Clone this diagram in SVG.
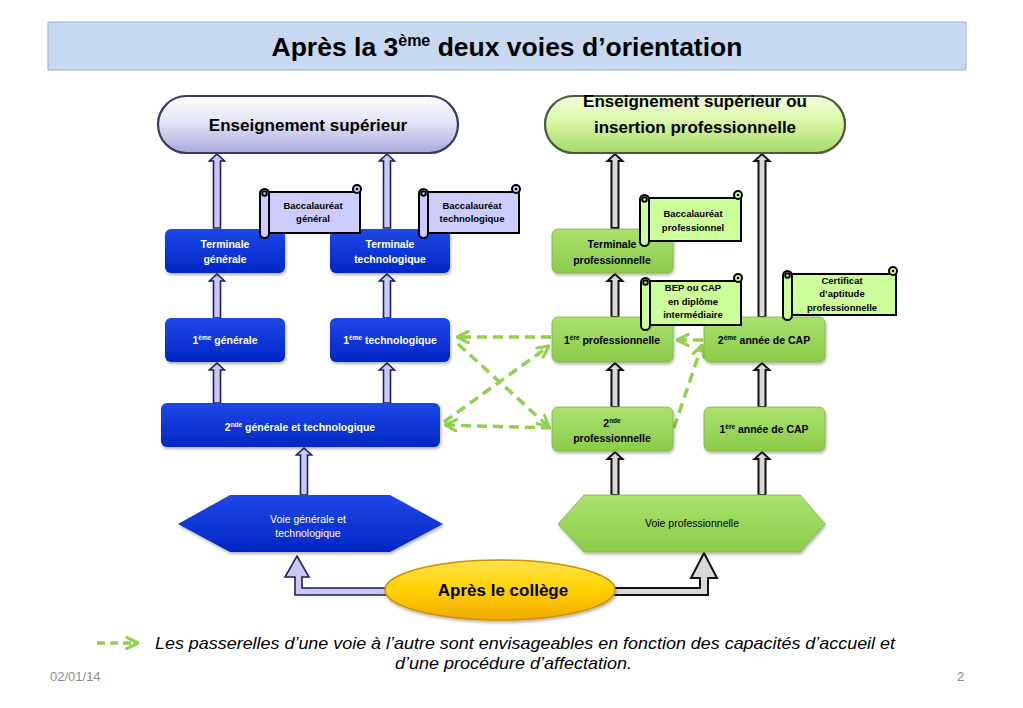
<svg xmlns="http://www.w3.org/2000/svg" width="1023" height="708" viewBox="0 0 1023 708">
<style>
text{font-family:"Liberation Sans",Arial,sans-serif}
.bw{font-weight:bold;font-size:10.5px;fill:#fff;text-anchor:middle}
.bk{font-weight:bold;font-size:10.5px;fill:#000;text-anchor:middle}
.sc{font-weight:bold;font-size:9.5px;fill:#000;text-anchor:middle}
.hx{font-size:10.5px;fill:#fff;text-anchor:middle}
.blue{fill:url(#gBlue);filter:url(#sh)}
.green{fill:url(#gGreen);stroke:#7cb342;stroke-width:0.8;filter:url(#sh)}
.arrL{fill:#c9c9f2;stroke:#1c1c6e;stroke-width:1.6;stroke-linejoin:miter}
.arrR{fill:#d9d9d9;stroke:#111;stroke-width:2;stroke-linejoin:miter}
.dash{fill:none;stroke:#92d050;stroke-width:3.5;stroke-dasharray:10 6;marker-end:url(#chev)}
.scL{fill:#ccccff;stroke:#000;stroke-width:2}
.scG{fill:#ccff99;stroke:#000;stroke-width:2}
</style>
<defs>
<linearGradient id="gBlue" x1="0" y1="0" x2="0" y2="1"><stop offset="0" stop-color="#1f48e8"/><stop offset="1" stop-color="#0026c4"/></linearGradient>
<linearGradient id="gGreen" x1="0" y1="0" x2="0" y2="1"><stop offset="0" stop-color="#a9e26d"/><stop offset="1" stop-color="#8ccb4a"/></linearGradient>
<linearGradient id="gPillL" x1="0" y1="0" x2="0" y2="1"><stop offset="0" stop-color="#ffffff"/><stop offset="0.45" stop-color="#e4e4f7"/><stop offset="1" stop-color="#a9a9dd"/></linearGradient>
<linearGradient id="gPillR" x1="0" y1="0" x2="0" y2="1"><stop offset="0" stop-color="#f3ffdd"/><stop offset="0.45" stop-color="#d9f6a6"/><stop offset="1" stop-color="#a5da66"/></linearGradient>
<linearGradient id="gGold" x1="0" y1="0" x2="0" y2="1"><stop offset="0" stop-color="#ffe14d"/><stop offset="0.5" stop-color="#ffd200"/><stop offset="1" stop-color="#f0a800"/></linearGradient>
<filter id="sh" x="-10%" y="-15%" width="125%" height="145%"><feDropShadow dx="1" dy="2" stdDeviation="1.5" flood-color="#000" flood-opacity="0.3"/></filter>
<marker id="chev" viewBox="0 0 10 10" refX="9" refY="5" markerWidth="4" markerHeight="4" orient="auto" markerUnits="strokeWidth">
<path d="M1,1 L9,5 L1,9" fill="none" stroke="#92d050" stroke-width="2.2" stroke-linecap="round" stroke-linejoin="round"/>
</marker>
</defs>

<rect width="1023" height="708" fill="#fff"/>

<g id="title">
<rect x="48" y="22" width="918" height="48" fill="#c6d9f1" stroke="#95b3d7" stroke-width="1"/>
<text x="507" y="56" font-size="26.5" font-weight="bold" text-anchor="middle" fill="#000">Après la 3<tspan font-size="16" dy="-10">ème</tspan><tspan dy="10"> deux voies d’orientation</tspan></text>
</g>

<g id="connectors">
<path class="arrL" d="M213.5,228 V161 H209.5 L217,154 L224.5,161 H220.5 V228 Z"/>
<path class="arrL" d="M383.5,228 V161 H379.5 L387,154 L394.5,161 H390.5 V228 Z"/>
<path class="arrL" d="M213.5,318 V281 H209.5 L217,274 L224.5,281 H220.5 V318 Z"/>
<path class="arrL" d="M383.5,318 V281 H379.5 L387,274 L394.5,281 H390.5 V318 Z"/>
<path class="arrL" d="M213.5,403 V370 H209.5 L217,363 L224.5,370 H220.5 V403 Z"/>
<path class="arrL" d="M383.5,403 V370 H379.5 L387,363 L394.5,370 H390.5 V403 Z"/>
<path class="arrL" d="M300.5,495 V455 H296.5 L304,448 L311.5,455 H307.5 V495 Z"/>
<path class="arrR" d="M611.5,228 V161 H607.5 L615,154 L622.5,161 H618.5 V228 Z"/>
<path class="arrR" d="M758.5,317 V161 H754.5 L762,154 L769.5,161 H765.5 V317 Z"/>
<path class="arrR" d="M611.5,317 V281 H607.5 L615,274 L622.5,281 H618.5 V317 Z"/>
<path class="arrR" d="M611.5,407 V370 H607.5 L615,363 L622.5,370 H618.5 V407 Z"/>
<path class="arrR" d="M758.5,407 V370 H754.5 L762,363 L769.5,370 H765.5 V407 Z"/>
<path class="arrR" d="M611.5,495 V459 H607.5 L615,452 L622.5,459 H618.5 V495 Z"/>
<path class="arrR" d="M758.5,495 V459 H754.5 L762,452 L769.5,459 H765.5 V495 Z"/>
<path class="arrL" d="M395,588 H302 V577 H309 L297,556 L285,577 H295 V595 H395 Z"/>
<path class="arrR" d="M605,588 H700 V578 H691 L704,553 L717,578 H708 V595 H605 Z"/>
<line class="dash" x1="551" y1="337" x2="457" y2="337"/>
<line class="dash" x1="458" y1="344" x2="549" y2="427"/>
<line class="dash" x1="444" y1="422" x2="549" y2="346"/>
<line class="dash" x1="551" y1="428" x2="445" y2="425"/>
<line class="dash" x1="703" y1="340" x2="677" y2="340"/>
<line class="dash" x1="674" y1="428" x2="702" y2="345"/>
</g>

<g id="pill-sup">
<rect x="158" y="96" width="300" height="57" rx="28.5" fill="url(#gPillL)" stroke="#3b3b5e" stroke-width="2.2"/>
<text x="308" y="131" font-size="17" font-weight="bold" text-anchor="middle" fill="#000">Enseignement supérieur</text>
</g>
<g id="pill-sup-pro">
<rect x="545" y="96" width="300" height="57" rx="28.5" fill="url(#gPillR)" stroke="#4a5a3c" stroke-width="2.2"/>
<text x="695" y="107" font-size="17" font-weight="bold" text-anchor="middle" fill="#000">Enseignement supérieur ou</text>
<text x="695" y="133" font-size="17" font-weight="bold" text-anchor="middle" fill="#000">insertion professionnelle</text>
</g>

<g id="term-gen">
<rect class="blue" x="165" y="229" width="120" height="44" rx="6"/>
<text class="bw" x="225" y="248">Terminale</text>
<text class="bw" x="225" y="263">générale</text>
</g>
<g id="term-techno">
<rect class="blue" x="330" y="229" width="120" height="44" rx="6"/>
<text class="bw" x="390" y="248">Terminale</text>
<text class="bw" x="390" y="263">technologique</text>
</g>
<g id="premiere-gen">
<rect class="blue" x="165" y="318" width="120" height="44" rx="6"/>
<text class="bw" x="225" y="344">1<tspan font-size="6.5" dy="-4">ème</tspan><tspan dy="4"> générale</tspan></text>
</g>
<g id="premiere-techno">
<rect class="blue" x="330" y="318" width="120" height="44" rx="6"/>
<text class="bw" x="390" y="344">1<tspan font-size="6.5" dy="-4">ème</tspan><tspan dy="4"> technologique</tspan></text>
</g>
<g id="seconde-gt">
<rect class="blue" x="161" y="403" width="279" height="44" rx="6"/>
<text class="bw" x="300" y="431">2<tspan font-size="6.5" dy="-4">nde</tspan><tspan dy="4"> générale et technologique</tspan></text>
</g>
<g id="voie-gt">
<polygon points="178,524 230,495 390,495 443,524 390,552 230,552" fill="url(#gBlue)" filter="url(#sh)"/>
<text class="hx" x="308" y="523">Voie générale et</text>
<text class="hx" x="308" y="537">technologique</text>
</g>

<g id="term-pro">
<rect class="green" x="552" y="229" width="121" height="44" rx="6"/>
<text class="bk" x="612" y="248">Terminale</text>
<text class="bk" x="612" y="264">professionnelle</text>
</g>
<g id="premiere-pro">
<rect class="green" x="552" y="317" width="121" height="45" rx="6"/>
<text class="bk" x="612" y="344">1<tspan font-size="6.5" dy="-4">ère</tspan><tspan dy="4"> professionnelle</tspan></text>
</g>
<g id="cap2">
<rect class="green" x="704" y="317" width="121" height="45" rx="6"/>
<text class="bk" x="764" y="344">2<tspan font-size="6.5" dy="-4">ème</tspan><tspan dy="4"> année de CAP</tspan></text>
</g>
<g id="seconde-pro">
<rect class="green" x="552" y="407" width="121" height="44" rx="6"/>
<text class="bk" x="612" y="427">2<tspan font-size="6.5" dy="-4">nde</tspan></text>
<text class="bk" x="612" y="442">professionnelle</text>
</g>
<g id="cap1">
<rect class="green" x="704" y="407" width="121" height="44" rx="6"/>
<text class="bk" x="764" y="433">1<tspan font-size="6.5" dy="-4">ère</tspan><tspan dy="4"> année de CAP</tspan></text>
</g>
<g id="voie-pro">
<polygon points="558,524 584,495 800,495 825,524 800,552 584,552" fill="url(#gGreen)" stroke="#7cb342" stroke-width="0.8" filter="url(#sh)"/>
<text x="692" y="527" font-size="10.5" text-anchor="middle" fill="#000">Voie professionnelle</text>
</g>

<g id="bac-gen" transform="translate(260,184)">
<rect class="scL" x="4" y="8" width="96" height="41"/>
<circle class="scL" cx="97" cy="5" r="4"/><circle cx="97" cy="5" r="1.3" fill="#000"/>
<rect class="scL" x="0" y="5" width="9" height="49" rx="4.5"/>
<circle class="scL" cx="4.5" cy="9.5" r="2.3" stroke-width="1.4"/>
<text class="sc" x="53" y="25">Baccalauréat</text>
<text class="sc" x="53" y="38">général</text>
</g>
<g id="bac-techno" transform="translate(419,184)">
<rect class="scL" x="4" y="8" width="96" height="41"/>
<circle class="scL" cx="97" cy="5" r="4"/><circle cx="97" cy="5" r="1.3" fill="#000"/>
<rect class="scL" x="0" y="5" width="9" height="49" rx="4.5"/>
<circle class="scL" cx="4.5" cy="9.5" r="2.3" stroke-width="1.4"/>
<text class="sc" x="53" y="25">Baccalauréat</text>
<text class="sc" x="53" y="38">technologique</text>
</g>
<g id="bac-pro" transform="translate(640,190)">
<rect class="scG" x="4" y="8" width="97" height="43"/>
<circle class="scG" cx="98" cy="5" r="4"/><circle cx="98" cy="5" r="1.3" fill="#000"/>
<rect class="scG" x="0" y="5" width="9" height="51" rx="4.5"/>
<circle class="scG" cx="4.5" cy="9.5" r="2.3" stroke-width="1.4"/>
<text class="sc" x="53" y="27">Baccalauréat</text>
<text class="sc" x="53" y="41">professionnel</text>
</g>
<g id="bep-cap" transform="translate(641,273)">
<rect class="scG" x="4" y="8" width="96" height="44"/>
<circle class="scG" cx="97" cy="5" r="4"/><circle cx="97" cy="5" r="1.3" fill="#000"/>
<rect class="scG" x="0" y="5" width="9" height="52" rx="4.5"/>
<circle class="scG" cx="4.5" cy="9.5" r="2.3" stroke-width="1.4"/>
<text class="sc" x="52" y="18">BEP ou CAP</text>
<text class="sc" x="52" y="32">en diplôme</text>
<text class="sc" x="52" y="45">intermédiaire</text>
</g>
<g id="cap-cert" transform="translate(783,266)">
<rect class="scG" x="4" y="8" width="109" height="41"/>
<circle class="scG" cx="110" cy="5" r="4"/><circle cx="110" cy="5" r="1.3" fill="#000"/>
<rect class="scG" x="0" y="5" width="9" height="49" rx="4.5"/>
<circle class="scG" cx="4.5" cy="9.5" r="2.3" stroke-width="1.4"/>
<text class="sc" x="59" y="18">Certificat</text>
<text class="sc" x="59" y="31">d’aptitude</text>
<text class="sc" x="59" y="45">professionnelle</text>
</g>

<g id="apres-college">
<ellipse cx="500" cy="590" rx="115" ry="30" fill="url(#gGold)" stroke="#c99400" stroke-width="1.5" filter="url(#sh)"/>
<text x="503" y="596" font-size="17" font-weight="bold" text-anchor="middle" fill="#000">Après le collège</text>
</g>

<g id="legend">
<line x1="97" y1="643" x2="138" y2="643" stroke="#92d050" stroke-width="3.5" stroke-dasharray="8 5" marker-end="url(#chev)"/>
<text x="155" y="649" font-size="17" font-style="italic" fill="#000" textLength="740" lengthAdjust="spacingAndGlyphs">Les passerelles d’une voie à l’autre sont envisageables en fonction des capacités d’accueil et</text>
<text x="395" y="669" font-size="17" font-style="italic" fill="#000" textLength="237" lengthAdjust="spacingAndGlyphs">d’une procédure d’affectation.</text>
</g>
<g id="footer">
<text x="50" y="681" font-size="13" fill="#8c8c8c">02/01/14</text>
<text x="957" y="681" font-size="13" fill="#8c8c8c">2</text>
</g>
</svg>
